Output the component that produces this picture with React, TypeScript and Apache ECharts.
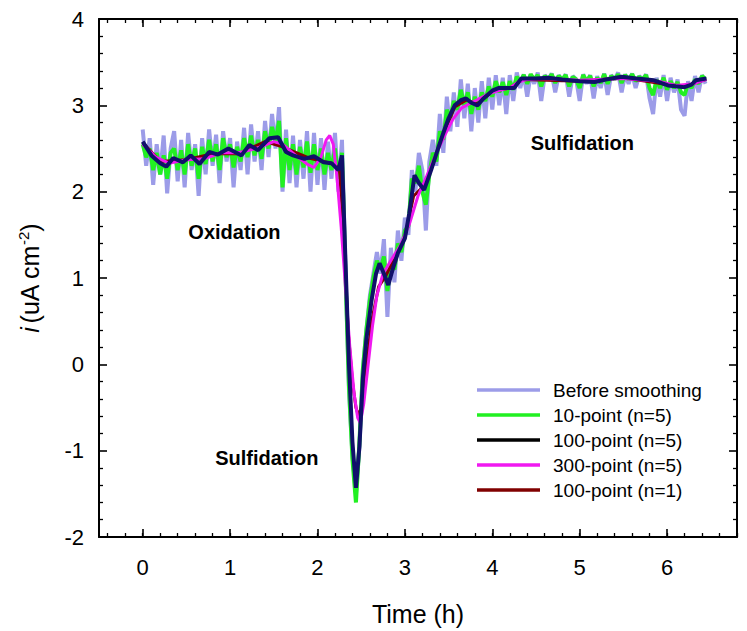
import React, { useEffect, useRef } from "react";
import * as echarts from "echarts";

// ---- data ----
const SAMPLE_STEP_H = 0.04; // raw & 10-point series sampled every 0.04 h starting at 0

const beforeSmoothing = [
  2.72, 2.3, 2.62, 2.08, 2.55, 2.2, 2.65, 1.98, 2.5, 2.7,
  2.12, 2.6, 2.05, 2.68, 2.25, 2.55, 1.95, 2.62, 2.2, 2.72,
  2.3, 2.66, 2.1, 2.7, 2.35, 2.62, 2.05, 2.58, 2.25, 2.74,
  2.2, 2.78, 2.35, 2.7, 2.25, 2.82, 2.4, 2.9, 2.5, 2.98,
  2.0, 2.72, 2.1, 2.65, 2.05, 2.6, 2.15, 2.7, 2.0, 2.68,
  2.08, 2.62, 2.02, 2.58, 2.15, 2.68, 2.0, 2.6, 1.1, -0.3,
  -1.05, -1.5, -0.95, -0.05, 0.4, 0.8, 1.05, 1.3, 1.05, 1.45,
  0.55, 1.35, 0.95, 1.55, 1.2, 1.7, 1.5, 2.25, 2.0, 2.45,
  2.25, 1.55, 2.35, 2.6, 2.3, 2.9, 2.45, 3.1, 2.7, 3.15,
  2.75, 3.3, 2.85, 3.25, 2.7, 3.2, 2.8, 3.28, 2.85, 3.32,
  2.95, 3.35, 3.0, 3.32, 2.9, 3.35, 3.05, 3.38, 3.2, 3.36,
  3.1, 3.36, 3.25, 3.38, 3.05, 3.35, 3.3, 3.37, 3.15, 3.35,
  3.28, 3.36, 3.1, 3.34, 3.3, 3.05, 3.36, 3.25, 3.35, 3.08,
  3.34, 3.2, 3.37, 3.12, 3.35, 3.3, 3.38, 3.15, 3.36, 3.25,
  3.37, 3.2, 3.34, 3.3, 3.36, 3.08, 2.9, 3.32, 3.1, 3.35,
  3.05, 3.32, 3.15, 3.3, 2.95, 2.88, 3.28, 3.05, 3.34, 3.15,
  3.35, 3.25,
];

const tenPointN5 = [
  2.55, 2.4, 2.5, 2.25, 2.45, 2.2, 2.42, 2.15, 2.45, 2.5,
  2.25, 2.48, 2.2, 2.55, 2.3, 2.5, 2.15, 2.52, 2.32, 2.6,
  2.35, 2.55, 2.25, 2.62, 2.4, 2.55, 2.28, 2.52, 2.35, 2.62,
  2.4, 2.65, 2.42, 2.6, 2.38, 2.7, 2.5, 2.75, 2.58, 2.82,
  2.05, 2.62, 2.25, 2.55, 2.2, 2.52, 2.28, 2.58, 2.22, 2.55,
  2.25, 2.5, 2.2, 2.45, 2.25, 2.5, 2.15, 2.45, 1.05, -0.25,
  -1.1, -1.6, -0.9, -0.05, 0.4, 0.75, 1.0, 1.2, 1.1, 1.25,
  0.85, 1.15, 1.1, 1.4, 1.3, 1.55, 1.6, 2.15, 2.1, 2.3,
  2.0, 1.85, 2.2, 2.45, 2.35, 2.7, 2.6, 2.95, 2.85, 3.05,
  2.95, 3.18, 3.0, 3.15, 2.9, 3.1, 2.95, 3.15, 3.05, 3.22,
  3.1, 3.28, 3.15, 3.27, 3.12, 3.28, 3.18, 3.33, 3.28, 3.35,
  3.25, 3.36, 3.3, 3.35, 3.22, 3.34, 3.3, 3.36, 3.26, 3.34,
  3.3, 3.35, 3.22, 3.33, 3.3, 3.2, 3.35, 3.28, 3.34, 3.22,
  3.32, 3.26, 3.36, 3.25, 3.34, 3.3, 3.36, 3.26, 3.35, 3.3,
  3.36, 3.28, 3.33, 3.3, 3.35, 3.2, 3.12, 3.3, 3.2, 3.32,
  3.18, 3.28, 3.2, 3.27, 3.15, 3.12, 3.25, 3.2, 3.3, 3.25,
  3.34, 3.3,
];

const hundredPointN5: [number, number][] = [
  [0, 2.58], [0.1, 2.42], [0.2, 2.33], [0.27, 2.29], [0.35, 2.39], [0.46, 2.34],
  [0.55, 2.42], [0.65, 2.32], [0.76, 2.46], [0.86, 2.43], [0.98, 2.5], [1.13, 2.42],
  [1.22, 2.54], [1.32, 2.48], [1.45, 2.62], [1.55, 2.63], [1.64, 2.46], [1.72, 2.42],
  [1.85, 2.38], [1.96, 2.41], [2.07, 2.34], [2.16, 2.33], [2.24, 2.25], [2.28, 2.42],
  [2.32, 1.2], [2.36, 0.0], [2.4, -0.9], [2.44, -1.43], [2.48, -0.95], [2.52, -0.15],
  [2.56, 0.3], [2.62, 0.75], [2.67, 1.05], [2.71, 1.17], [2.76, 1.05], [2.81, 0.92],
  [2.86, 1.1], [2.92, 1.29], [3.0, 1.46], [3.05, 1.75], [3.11, 2.19], [3.16, 2.1],
  [3.22, 2.02], [3.3, 2.25], [3.38, 2.5], [3.44, 2.68], [3.5, 2.85], [3.57, 3.0],
  [3.64, 3.06], [3.7, 3.08], [3.76, 3.03], [3.83, 3.0], [3.9, 3.08], [4.0, 3.17],
  [4.07, 3.2], [4.25, 3.2], [4.33, 3.31], [4.5, 3.31], [4.64, 3.32], [4.8, 3.3],
  [5.0, 3.28], [5.17, 3.27], [5.3, 3.3], [5.48, 3.33], [5.65, 3.31], [5.85, 3.29],
  [6.01, 3.23], [6.1, 3.22], [6.2, 3.21], [6.28, 3.24], [6.33, 3.29], [6.45, 3.31],
];

const threeHundredPointN5: [number, number][] = [
  [0, 2.55], [0.15, 2.4], [0.3, 2.33], [0.5, 2.37], [0.7, 2.38], [0.9, 2.45],
  [1.1, 2.45], [1.3, 2.5], [1.5, 2.58], [1.6, 2.55], [1.75, 2.42], [1.88, 2.32],
  [1.96, 2.28], [2.04, 2.4], [2.1, 2.6], [2.14, 2.65], [2.18, 2.55], [2.22, 2.2],
  [2.27, 1.6], [2.32, 0.9], [2.37, 0.2], [2.42, -0.35], [2.46, -0.62], [2.49, -0.68],
  [2.53, -0.45], [2.58, 0.0], [2.63, 0.45], [2.68, 0.8], [2.75, 1.05], [2.85, 1.22],
  [2.95, 1.38], [3.05, 1.62], [3.15, 1.95], [3.25, 2.18], [3.35, 2.42], [3.45, 2.64],
  [3.55, 2.84], [3.65, 2.97], [3.8, 3.05], [3.95, 3.13], [4.1, 3.18], [4.2, 3.2],
  [4.3, 3.27], [4.4, 3.3], [4.6, 3.31], [5.0, 3.29], [5.5, 3.31], [5.9, 3.28],
  [6.1, 3.23], [6.3, 3.25], [6.45, 3.3],
];

const hundredPointN1: [number, number][] = [
  [0, 2.57], [0.2, 2.35], [0.5, 2.37], [0.8, 2.44], [1.1, 2.44], [1.4, 2.58],
  [1.6, 2.52], [1.9, 2.39], [2.15, 2.33], [2.25, 2.28], [2.3, 1.5], [2.35, 0.4],
  [2.4, -0.2], [2.44, -0.5], [2.47, -0.6], [2.5, -0.5], [2.55, -0.1], [2.62, 0.5],
  [2.7, 0.9], [2.78, 1.02], [2.9, 1.27], [3.0, 1.47], [3.1, 1.95], [3.2, 2.05],
  [3.3, 2.27], [3.44, 2.67], [3.57, 2.98], [3.7, 3.06], [3.83, 3.02], [4.0, 3.16],
  [4.2, 3.2], [4.35, 3.3], [5.0, 3.28], [5.5, 3.32], [6.0, 3.24], [6.2, 3.22],
  [6.45, 3.3],
];

const xTickLabels = [0, 1, 2, 3, 4, 5, 6];
const annotations: [number, number, string][] = [
  [1.05, 1.53, "Oxidation"],
  [5.03, 2.56, "Sulfidation"],
  [1.42, -1.09, "Sulfidation"],
];

const seriesNames = [
  "Before smoothing",
  "10-point (n=5)",
  "100-point (n=5)",
  "300-point (n=5)",
  "100-point (n=1)",
];
const seriesColors = ["#9c9ce8", "#22f022", "#10106a", "#f018f0", "#800000"];
const legendColors = ["#9c9ce8", "#22f022", "#000000", "#f018f0", "#800000"];

const FONT = "'Liberation Sans', Arial, sans-serif";

export default function App() {
  const ref = useRef<HTMLDivElement>(null);
  useEffect(() => {
    if (!ref.current) return;
    const chart = echarts.init(ref.current, null, { renderer: "svg" });

    const xMinor: number[] = [];
    for (let k = -2; k <= 34; k++) xMinor.push(Math.round(k * 20) / 100);

    const toPairs = (vals: number[]) =>
      vals.map((v, i) => [Math.round(i * SAMPLE_STEP_H * 100) / 100, v]);

    const axisLine = { show: true, onZero: false, lineStyle: { color: "#000", width: 2 } };
    const xBase = { type: "value", min: -0.5, max: 6.8, splitLine: { show: false } };
    const majorX = (pos: string, labels: boolean) => ({
      ...xBase,
      position: pos,
      axisLine,
      axisTick: { show: true, inside: true, length: 8, customValues: xTickLabels, lineStyle: { color: "#000", width: 1.6 } },
      axisLabel: labels
        ? { show: true, customValues: xTickLabels, margin: 19, fontSize: 22, color: "#000", fontFamily: FONT }
        : { show: false },
    });
    const minorX = (pos: string) => ({
      ...xBase,
      position: pos,
      axisLine: { show: false, onZero: false },
      axisTick: { show: true, inside: true, length: 4, customValues: xMinor, lineStyle: { color: "#000", width: 1.3 } },
      axisLabel: { show: false },
    });

    const yBase = {
      type: "value",
      min: -2,
      max: 4,
      interval: 1,
      splitLine: { show: false },
      axisLine,
      axisTick: { show: true, inside: true, length: 8, lineStyle: { color: "#000", width: 1.6 } },
      minorTick: { show: true, splitNumber: 5, length: 4, lineStyle: { color: "#000", width: 1.3 } },
      minorSplitLine: { show: false },
    };

    const lineSeries = (name: string, data: any, color: string, width: number, z: number) => ({
      name,
      type: "line",
      data,
      symbol: "none",
      smooth: false,
      z,
      lineStyle: { color, width },
      itemStyle: { color },
      emphasis: { disabled: true },
    });

    chart.setOption({
      animation: false,
      backgroundColor: "#fff",
      grid: { left: 99, top: 19, right: 10, bottom: 94, containLabel: false },
      xAxis: [
        {
          ...majorX("bottom", true),
          name: "Time (h)",
          nameLocation: "middle",
          nameGap: 64,
          nameTextStyle: { fontSize: 25, color: "#000", fontFamily: FONT },
        },
        minorX("bottom"),
        majorX("top", false),
        minorX("top"),
      ],
      yAxis: [
        {
          ...yBase,
          position: "left",
          axisLabel: { show: true, margin: 15, fontSize: 22, color: "#000", fontFamily: FONT },
          name: "{it|i}{n|(uA cm}{sup|-2}{n|)}",
          nameLocation: "middle",
          nameGap: 56,
          nameTextStyle: {
            color: "#000",
            fontFamily: FONT,
            rich: {
              it: { fontSize: 25, fontStyle: "italic", fontFamily: FONT, color: "#000", padding: [0, 3, 0, 0] },
              n: { fontSize: 25, fontFamily: FONT, color: "#000" },
              sup: { fontSize: 15, fontFamily: FONT, color: "#000", padding: [0, 0, 12, 0] },
            },
          },
        },
        { ...yBase, position: "right", axisLabel: { show: false } },
      ],
      legend: {
        orient: "vertical",
        left: 472,
        top: 375,
        itemWidth: 63,
        itemHeight: 10,
        itemGap: 5,
        textStyle: { fontSize: 19, color: "#000", fontFamily: FONT, lineHeight: 20, padding: [0, 0, 0, 8] },
        data: seriesNames.map((n, i) => ({
          name: n,
          icon: "path://M0,3.3 L63,3.3 L63,6.7 L0,6.7 Z",
          itemStyle: { color: legendColors[i] },
        })),
      },
      series: [
        lineSeries(seriesNames[0], toPairs(beforeSmoothing), seriesColors[0], 4, 1),
        lineSeries(seriesNames[1], toPairs(tenPointN5), seriesColors[1], 4, 2),
        lineSeries(seriesNames[4], hundredPointN1, seriesColors[4], 3, 3),
        lineSeries(seriesNames[3], threeHundredPointN5, seriesColors[3], 3, 4),
        lineSeries(seriesNames[2], hundredPointN5, seriesColors[2], 4, 5),
        {
          type: "scatter",
          data: annotations,
          symbolSize: 0,
          silent: true,
          z: 10,
          itemStyle: { opacity: 1 },
          label: {
            show: true,
            position: "inside",
            formatter: (p: any) => p.value[2],
            fontSize: 20,
            fontWeight: "bold",
            color: "#000",
            opacity: 1,
            fontFamily: FONT,
          },
        },
      ],
    });
    return () => chart.dispose();
  }, []);
  return (
    <div
      ref={ref}
      style={{ position: "fixed", left: 0, top: 0, width: 747, height: 631, background: "#fff" }}
    />
  );
}
